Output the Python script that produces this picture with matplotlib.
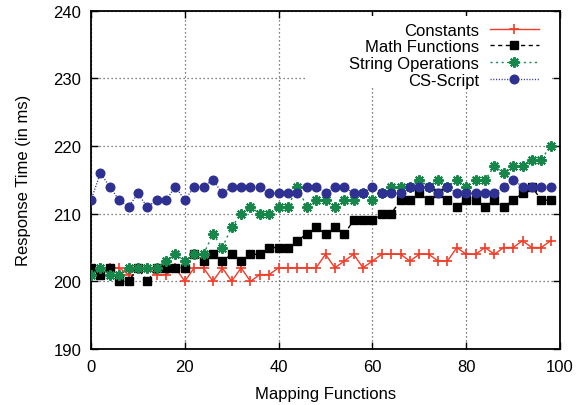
import matplotlib
matplotlib.use("Agg")
import matplotlib.pyplot as plt
from matplotlib.patches import Rectangle

plt.rcParams['font.family'] = ['Liberation Sans', 'DejaVu Sans']

x = list(range(0, 100, 2))

constants = [202, 202, 202, 202, 201, 202, 202, 201, 201, 202,
             200, 202, 202, 200, 202, 200, 202, 200, 201, 201,
             202, 202, 202, 202, 202, 204, 202, 203, 204, 202,
             203, 204, 204, 204, 203, 204, 204, 203, 203, 205,
             204, 204, 205, 204, 205, 205, 206, 205, 205, 206]

math_functions = [202, 201, 202, 200, 200, 202, 200, 202, 202, 202,
                  202, 204, 203, 204, 203, 204, 203, 204, 204, 205,
                  205, 205, 206, 207, 208, 207, 208, 207, 209, 209,
                  209, 210, 210, 212, 212, 213, 212, 213, 212, 211,
                  212, 212, 211, 212, 211, 212, 213, 214, 212, 212]

string_ops = [201, 202, 201, 201, 202, 202, 202, 202, 203, 204,
              203, 204, 204, 207, 205, 208, 210, 211, 210, 210,
              211, 211, 214, 211, 212, 212, 211, 212, 212, 213,
              212, 213, 214, 214, 214, 215, 214, 215, 214, 215,
              214, 215, 215, 217, 216, 217, 217, 218, 218, 220]

cs_script = [212, 216, 214, 212, 211, 213, 211, 212, 212, 214,
             212, 214, 214, 215, 213, 214, 214, 214, 214, 213,
             213, 213, 213, 214, 214, 213, 214, 214, 213, 213,
             214, 213, 213, 213, 214, 214, 214, 213, 214, 213,
             213, 213, 213, 213, 214, 215, 214, 214, 214, 214]

labels = ["Constants", "Math Functions", "String Operations", "CS-Script"]
x_ticks = [0, 20, 40, 60, 80, 100]
y_ticks = [190, 200, 210, 220, 230, 240]

fig = plt.figure(figsize=(5.81, 4.06), dpi=100)
ax = fig.add_axes([0.1566, 0.1379, 0.8073, 0.8333])

ax.set_axisbelow(True)
ax.grid(True, linestyle=(0, (1, 2.2)), linewidth=0.9, color='#555555')

ax.plot(x, constants, color='#f03c28', linestyle='-', linewidth=1.0,
        marker='+', markersize=7, markeredgewidth=1.2, label=labels[0], zorder=3)
ax.plot(x, math_functions, color='black', linestyle=(0, (3, 2.5)), linewidth=1.0,
        marker='s', markersize=6.3, label=labels[1], zorder=3)
ax.plot(x, string_ops, color='#17864a', linestyle=(0, (1.5, 2.5)), linewidth=1.0,
        marker=(8, 2, 0), markersize=7.5, markeredgewidth=1.5, label=labels[2], zorder=3)
ax.plot(x, cs_script, color='#2e3192', linestyle=(0, (0.8, 1.2)), linewidth=1.0,
        marker='o', markersize=6.2, label=labels[3], zorder=3)

# white area behind key (gnuplot clears grid under the key)
ax.add_patch(Rectangle((0.456, 0.775), 0.527, 0.209, transform=ax.transAxes,
                       facecolor='white', edgecolor='none', zorder=1))

ax.set_xlim(0, 100)
ax.set_ylim(190, 240)
ax.set_xticks(x_ticks)
ax.set_yticks(y_ticks)
ax.tick_params(direction='in', length=5, width=1.0, top=True, right=True,
               labelsize=12, pad=7)
for s in ax.spines.values():
    s.set_linewidth(1.3)

ax.set_xlabel("Mapping Functions", fontsize=12, labelpad=9)
ax.set_ylabel("Response Time (in ms)", fontsize=12, labelpad=16)

leg = ax.legend(loc='upper right', bbox_to_anchor=(0.955, 0.965), frameon=False,
                markerfirst=False, fontsize=12, borderpad=0, borderaxespad=0,
                handlelength=2.95, handletextpad=0.66, labelspacing=0.10)
leg.set_zorder(5)

fig.savefig("out.png", dpi=100)
